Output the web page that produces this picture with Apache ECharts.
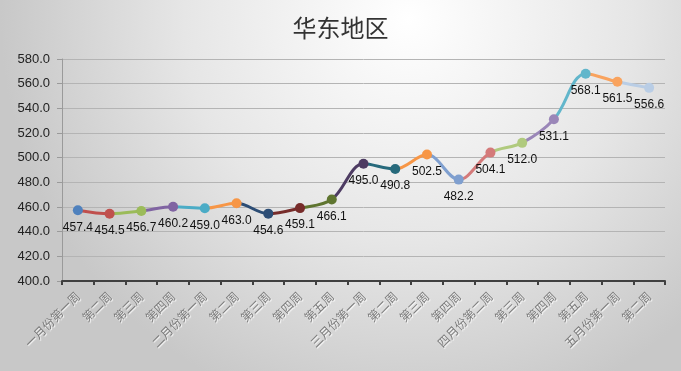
<!DOCTYPE html>
<html><head><meta charset="utf-8">
<script src="https://cdn.jsdelivr.net/npm/echarts@6/dist/echarts.min.js"></script>
<style>html,body{margin:0;padding:0;}#c{width:681px;height:371px;}</style>
</head><body><div id="c"></div>
<script>
var title = '华东地区';
var categories = ['一月份第一周','第二周','第三周','第四周','二月份第一周','第二周','第三周','第四周','第五周','三月份第一周','第二周','第三周','第四周','四月份第二周','第三周','第四周','第五周','五月份第一周','第二周'];
var values = [457.4,454.5,456.7,460.2,459.0,463.0,454.6,459.1,466.1,495.0,490.8,502.5,482.2,504.1,512.0,531.1,568.1,561.5,556.6];
var pointColors = ['#4F81BD','#C0504D','#9BBB59','#8064A2','#4BACC6','#F79646','#2C4D75','#772C2A','#5F7530','#4D3B62','#276A7C','#F79646','#7F9FCF','#D47A7A','#B0CA7E','#9A86B8','#62B6CB','#F9A35E','#B9CDE5'];
var yTicks = {min:400, max:580, interval:20};

var pieces = pointColors.map(function(c, i){
  if (i === 0) return {lte: 0, color: c};
  return {gt: i-1, lte: i, color: c};
});

var chart = echarts.init(document.getElementById('c'));
chart.setOption({
  backgroundColor: {
    type:'radial', x:0.6, y:0.05, r:1.1,
    colorStops:[{offset:0,color:'#ffffff'},{offset:0.55,color:'#e6e6e6'},{offset:1,color:'#c8c8c8'}]
  },
  title: {text: title, left: 'center', top: 11,
    textStyle:{fontFamily:'Noto Sans CJK SC', fontSize:24, fontWeight:'normal', color:'#333'}},
  grid: {left:62, right:16, top:59, bottom:90},
  visualMap: {show:false, type:'piecewise', dimension:0, pieces: pieces, seriesIndex:0},
  xAxis: {
    type:'category', data: categories, boundaryGap:true,
    axisLine:{lineStyle:{color:'#404040', width:2}},
    axisTick:{show:true, alignWithLabel:false, length:4, lineStyle:{color:'#404040', width:2}},
    axisLabel:{rotate:45, interval:0, fontSize:12, color:'#7a7a7a', fontFamily:'Noto Sans CJK SC',
      margin:13, textShadowColor:'#ffffff', textShadowBlur:1, textShadowOffsetX:1, textShadowOffsetY:1}
  },
  yAxis: {
    type:'value', min:yTicks.min, max:yTicks.max, interval:yTicks.interval,
    axisLine:{show:true, lineStyle:{color:'#9a9a9a'}},
    axisTick:{show:true, length:5, lineStyle:{color:'#9a9a9a'}},
    splitLine:{lineStyle:{color:'#b4b4b4'}},
    axisLabel:{formatter:function(v){return v.toFixed(1);}, fontSize:13, color:'#222', fontFamily:'Liberation Sans', margin:12}
  },
  series: [{
    type:'line', data: values, smooth:0.35,
    symbol:'circle', symbolSize:10,
    lineStyle:{width:3},
    label:{show:true, position:'bottom', distance:6, fontSize:12, color:'#111', fontFamily:'Liberation Sans',
      formatter:function(p){return p.value.toFixed(1);}},
    animation:false
  }]
});
</script>
</body></html>
